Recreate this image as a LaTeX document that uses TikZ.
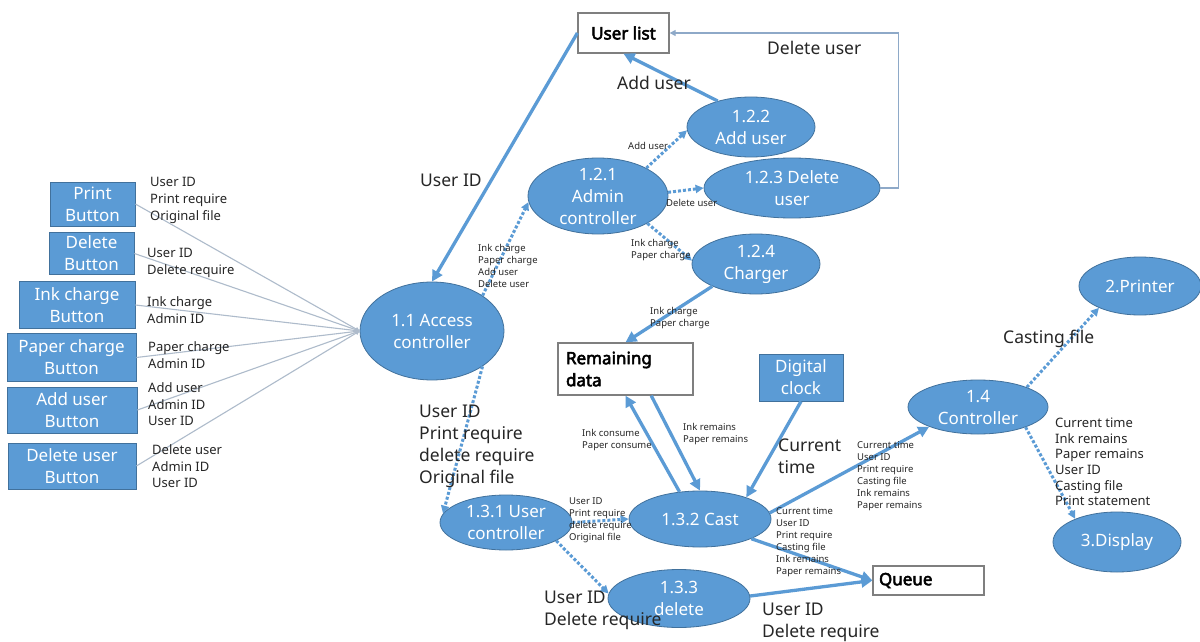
\documentclass[tikz,border=0pt]{standalone}
\usepackage{fontspec}
\setmainfont{Noto Sans}
\newfontfamily\boldface{Noto Sans}[FakeBold=3.2]
\usetikzlibrary{arrows.meta,shapes.geometric}
\definecolor{nodeblue}{HTML}{5B9BD5}
\definecolor{nodeedge}{HTML}{41719C}
\definecolor{thinline}{HTML}{AEBBCB}
\definecolor{frameline}{HTML}{8EA9C8}
\definecolor{boxedge}{HTML}{7F7F7F}
\definecolor{txt}{HTML}{262626}
\begin{document}
\begin{tikzpicture}[x=1pt,y=-1pt,
  proc/.style={ellipse, fill=nodeblue, draw=nodeedge, line width=0.8pt, inner sep=0pt},
  ptext/.style={text=white, font=\fontsize{17}{22}\selectfont, align=center, inner sep=0pt},
  btn/.style={rectangle, fill=nodeblue, draw=nodeedge, line width=0.8pt, text=white,
    font=\fontsize{17}{22}\selectfont, align=center, inner sep=0pt},
  store/.style={rectangle, fill=white, draw=boxedge, line width=1.3pt, text=black,
    font=\boldface\fontsize{17}{22}\selectfont, inner sep=0pt},
  tiny/.style={anchor=north west, inner sep=0pt, align=left, text=txt, font=\fontsize{9.5}{12}\selectfont},
  small/.style={anchor=north west, inner sep=0pt, align=left, text=txt, font=\fontsize{13}{16.7}\selectfont},
  medium/.style={anchor=north west, inner sep=0pt, align=left, text=txt, font=\fontsize{17.5}{21.8}\selectfont},
  thickarr/.style={draw=nodeblue, line width=3.3pt, -{Triangle[length=11pt,width=11pt]}},
  dotarr/.style={draw=nodeblue, line width=3pt, dash pattern=on 3pt off 2pt, -{Triangle[length=8pt,width=8pt]}},
  thinarr/.style={draw=thinline, line width=1.1pt, -{Triangle[length=4pt,width=4pt]}},
  framearr/.style={draw=frameline, line width=1.2pt, -{Triangle[length=6pt,width=6pt]}}
]
\useasboundingbox[fill=white] (0,0) rectangle (1200,642);

% ---- buttons
\node[btn, minimum width=85, minimum height=44] (bP) at (92.5,204) {Print\\Button};
\node[btn, minimum width=85, minimum height=42] (bD) at (91.5,253.5) {Delete\\Button};
\node[btn, minimum width=116, minimum height=47] (bI) at (77,305) {Ink charge\\Button};
\node[btn, minimum width=129, minimum height=48] (bPa) at (71.5,357.5) {Paper charge\\Button};
\node[btn, minimum width=130, minimum height=46] (bA) at (72,410) {Add user\\Button};
\node[btn, minimum width=128, minimum height=46] (bDu) at (72,466) {Delete user\\Button};

% ---- processes
\node[proc, minimum width=144, minimum height=98] (acc) at (432,331) {};
\node[ptext] at (acc) {1.1 Access\\controller};
\node[proc, minimum width=140, minimum height=76] (adm) at (598,196) {};
\node[ptext] at (adm) {1.2.1\\Admin\\controller};
\node[proc, minimum width=128, minimum height=60] (addu) at (751,127) {};
\node[ptext] at (addu) {1.2.2\\Add user};
\node[proc, minimum width=176, minimum height=60] (delu) at (792,188) {};
\node[ptext] at (delu) {1.2.3 Delete\\user};
\node[proc, minimum width=128, minimum height=60] (chg) at (756,264) {};
\node[ptext] at (chg) {1.2.4\\Charger};
\node[proc, minimum width=132, minimum height=55] (uc) at (506,522.5) {};
\node[ptext] at (uc) {1.3.1 User\\controller};
\node[proc, minimum width=142, minimum height=56] (cast) at (700,519) {};
\node[ptext] at (cast) {1.3.2 Cast};
\node[proc, minimum width=142, minimum height=58] (del) at (679,598.5) {};
\node[ptext] at (del) {1.3.3\\delete};
\node[proc, minimum width=140, minimum height=54] (ctl) at (978,407) {};
\node[ptext] at (ctl) {1.4\\Controller};
\node[proc, minimum width=122, minimum height=58] (prn) at (1140,286) {};
\node[ptext] at (prn) {2.Printer};
\node[proc, minimum width=128, minimum height=60] (dsp) at (1117,542) {};
\node[ptext] at (dsp) {3.Display};

% ---- stores and source
\node[store, minimum width=91, minimum height=40] (ul) at (623.5,33) {User list};
\node[store, minimum height=52, inner xsep=8pt, text width=119pt, align=left] (rd) at (625.5,369) {Remaining\\data};
\node[store, minimum height=29, inner xsep=6pt, text width=99pt, align=left] (q) at (928.5,580.5) {Queue};
\node[btn, minimum width=84, minimum height=47] (dc) at (801,377.5) {Digital\\clock};

% ---- left input lines
\draw[thinarr] (bP.east) -- (acc.west);
\draw[thinarr] (bD.east) -- (acc.west);
\draw[thinarr] (bI.east) -- (acc.west);
\draw[thinarr] (bPa.east) -- (acc.west);
\draw[thinarr] (bA.east) -- (acc.west);
\draw[thinarr] (bDu.east) -- (acc.west);

% ---- connectors
\draw[thickarr] (ul.west) -- (acc.north);
\draw[thickarr] (addu.142) -- (ul.south);
\draw[framearr] (delu.east) -- ++(18,0) |- (ul.east);
\draw[dotarr] (acc.35) -- (adm.185);
\draw[dotarr] (adm.30) -- (addu.183);
\draw[dotarr] (adm.3) -- (delu.west);
\draw[dotarr] (adm.-29) -- (chg.177);
\draw[thickarr] (chg.207) -- (rd.north);
\draw[dotarr] (acc.-35) -- (uc.172);
\draw[dotarr] (uc.east) -- (cast.west);
\draw[dotarr] (uc.-20) -- (del.176);
\draw[thickarr] (cast.127) -- (rd.south);
\draw[thickarr] (rd.-46) -- (cast.north);
\draw[thickarr] (dc.south) -- (cast.25);
\draw[thickarr] (cast.5) -- (ctl.202);
\draw[thickarr] (cast.-21) -- (q.west);
\draw[thickarr] (del.2) -- (q.west);
\draw[dotarr] (ctl.22) -- (prn.208);
\draw[dotarr] (ctl.-23) -- (dsp.151);

% ---- left labels
\node[small] (l1) at (150,177.5) {User ID\\Print require\\Original file};
\node[small] (l2) at (147,248.5) {User ID\\Delete require};
\node[small] (l3) at (147,296.5) {Ink charge\\Admin ID};
\node[small] (l4) at (148,341.5) {Paper charge\\Admin ID};
\node[small] (l5) at (148,382.5) {Add user\\Admin ID\\User ID};
\node[small] (l6) at (152,444.5) {Delete user\\Admin ID\\User ID};

% ---- medium labels
\node[medium] (m1) at (420,174) {User ID};
\node[medium] (m2) at (617,76) {Add user};
\node[medium] (m3) at (767,41) {Delete user};
\node[medium] (m4) at (419,405) {User ID\\Print require\\delete require\\Original file};
\node[medium] (m5) at (778,439) {Current\\time};
\node[medium] (m6) at (544,591) {User ID\\Delete require};
\node[medium] (m7) at (762,603) {User ID\\Delete require};
\node[medium] (m8) at (1003,330) {Casting file};

% ---- tiny labels
\node[tiny] (t1) at (478,244) {Ink charge\\Paper charge\\Add user\\Delete user};
\node[tiny] (t2) at (628,142) {Add user};
\node[tiny] (t3) at (666,199) {Delete user};
\node[tiny] (t4) at (631,239) {Ink charge\\Paper charge};
\node[tiny] (t5) at (650,307) {Ink charge\\Paper charge};
\node[tiny] (t6) at (582,429) {Ink consume\\Paper consume};
\node[tiny] (t7) at (683,423) {Ink remains\\Paper remains};
\node[tiny] (t8) at (569,498) {User ID\\Print require\\delete require\\Original file};
\node[tiny] (t9) at (857,441) {Current time\\User ID\\Print require\\Casting file\\Ink remains\\Paper remains};
\node[tiny] (t10) at (776,507) {Current time\\User ID\\Print require\\Casting file\\Ink remains\\Paper remains};

% ---- display label
\node[anchor=north west, inner sep=0pt, align=left, text=txt, font=\fontsize{13}{15.6}\selectfont] (r1) at (1055,418) {Current time\\Ink remains\\Paper remains\\User ID\\Casting file\\Print statement};
\end{tikzpicture}
\end{document}
